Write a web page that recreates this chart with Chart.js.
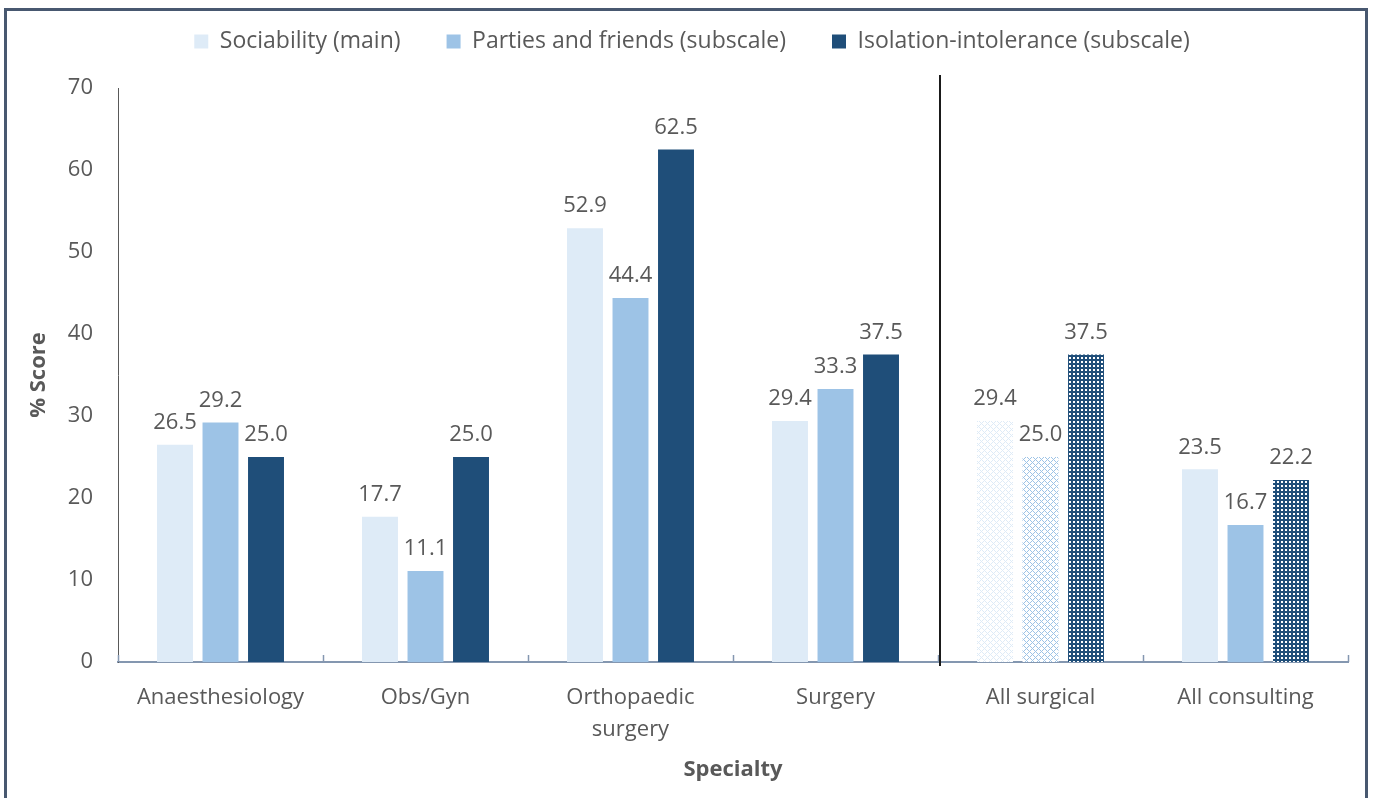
<!DOCTYPE html>
<html lang="en">
	<head>
		<meta charset="utf-8"/>
		<title>Sociability by specialty</title>
		<script src="https://cdn.jsdelivr.net/npm/chart.js@4.4.1/dist/chart.umd.min.js"></script>
		<style>
			body {
				margin: 0;
				background-color: white;
			}
			.container {
				position: relative;
				width: 1374px;
				height: 798px;
			}
		</style>
	</head>

	<body>
		<div class="container">
			<canvas id="myChart"></canvas>
		</div>

		<script>
			const categories = ['Anaesthesiology', 'Obs/Gyn', ['Orthopaedic', 'surgery'], 'Surgery', 'All surgical', 'All consulting'];
			const sociability = [26.5, 17.7, 52.9, 29.4, 29.4, 23.5];
			const parties = [29.2, 11.1, 44.4, 33.3, 25.0, 16.7];
			const isolation = [25.0, 25.0, 62.5, 37.5, 37.5, 22.2];
			const seriesNames = ['Sociability (main)', 'Parties and friends (subscale)', 'Isolation-intolerance (subscale)'];

			const LIGHT = '#DEEBF7';
			const MID = '#9DC3E6';
			const DARK = '#1F4E79';
			const TEXT = '#595959';
			const FONT = "'Open Sans', sans-serif";

			// little repeating tiles for the hatched bars
			function diamondPattern(color) {
				let c = document.createElement('canvas');
				c.width = 6; c.height = 6;
				let g = c.getContext('2d');
				g.fillStyle = '#ffffff';
				g.fillRect(0, 0, 6, 6);
				g.fillStyle = color;
				for (let i = 0; i < 6; i++) {
					g.fillRect(i, i, 1, 1);
					g.fillRect(i, (6 - i) % 6, 1, 1);
				}
				return g.createPattern(c, 'repeat');
			}

			function dotPattern(color) {
				let c = document.createElement('canvas');
				c.width = 4; c.height = 4;
				let g = c.getContext('2d');
				g.fillStyle = color;
				g.fillRect(0, 0, 4, 4);
				g.fillStyle = '#ffffff';
				g.fillRect(1, 1, 2, 2);
				return g.createPattern(c, 'repeat');
			}

			const lightHatch = diamondPattern(LIGHT);
			const midHatch = diamondPattern(MID);
			const darkDots = dotPattern(DARK);

			const frame = {
				id: 'frame',
				beforeLayout(chart) {
					// leave some room between legend and plot
					let lg = chart.legend;
					if (lg && !lg._padded) {
						let fit = lg.fit;
						lg.fit = function () {
							fit.call(this);
							this.height += 25;
						};
						lg._padded = true;
					}
				},
				afterLayout(chart) {
					// legend sits a bit right of the canvas centre
					chart.legend.left += 13;
					chart.legend.right += 13;
				},
				beforeDraw(chart) {
					let ctx = chart.ctx;
					ctx.save();
					ctx.strokeStyle = '#485870';
					ctx.lineWidth = 3;
					ctx.strokeRect(5.5, 9.5, 1361, 900);
					ctx.restore();
				}
			};

			const extras = {
				id: 'extras',
				afterDatasetsDraw(chart) {
					let ctx = chart.ctx;
					let x = chart.scales.x;
					let area = chart.chartArea;
					ctx.save();

					// small ticks between categories, pointing up
					ctx.strokeStyle = '#8497B0';
					ctx.lineWidth = 1.5;
					for (let i = 0; i <= categories.length; i++) {
						let px = Math.round(x.getPixelForValue(i - 0.5)) + 0.5;
						ctx.beginPath();
						ctx.moveTo(px, area.bottom - 7);
						ctx.lineTo(px, area.bottom);
						ctx.stroke();
					}

					// divider between single specialties and the totals
					let dx = x.getPixelForValue(3.5) + 2;
					ctx.strokeStyle = '#1a1a1a';
					ctx.lineWidth = 2;
					ctx.beginPath();
					ctx.moveTo(dx, area.top - 13);
					ctx.lineTo(dx, area.bottom + 4);
					ctx.stroke();

					// value labels
					ctx.fillStyle = TEXT;
					ctx.font = '22px ' + FONT;
					ctx.textAlign = 'center';
					ctx.textBaseline = 'middle';
					chart.data.datasets.forEach((ds, i) => {
						chart.getDatasetMeta(i).data.forEach((bar, j) => {
							ctx.fillText(ds.data[j].toFixed(1), bar.x, bar.y - 22);
						});
					});
					ctx.restore();
				}
			};

			let ch1 = document.getElementById('myChart').getContext('2d');
			let chart1 = new Chart(ch1, {
				type: 'bar',
				data: {
					labels: categories,
					datasets: [
						{
							label: seriesNames[0],
							data: sociability,
							backgroundColor: [LIGHT, LIGHT, LIGHT, LIGHT, lightHatch, LIGHT]
						},
						{
							label: seriesNames[1],
							data: parties,
							backgroundColor: [MID, MID, MID, MID, midHatch, MID]
						},
						{
							label: seriesNames[2],
							data: isolation,
							backgroundColor: [DARK, DARK, DARK, DARK, darkDots, darkDots]
						}
					]
				},
				plugins: [frame, extras],
				options: {
					responsive: true,
					maintainAspectRatio: false,
					animation: false,
					layout: {
						padding: { left: 10, right: 26, top: -16, bottom: 0 }
					},
					datasets: {
						bar: {
							categoryPercentage: 0.666,
							barPercentage: 0.79
						}
					},
					plugins: {
						tooltip: { enabled: false },
						legend: {
							position: 'top',
							labels: {
								boxWidth: 14,
								boxHeight: 14,
								padding: 46,
								color: TEXT,
								font: { family: FONT, size: 23 }
							}
						}
					},
					scales: {
						x: {
							grid: { display: false },
							border: { display: true, color: '#8497B0', width: 2 },
							ticks: {
								color: TEXT,
								padding: 12,
								font: { family: FONT, size: 22, lineHeight: 1.45 }
							},
							title: {
								display: true,
								text: 'Specialty',
								color: TEXT,
								padding: { top: 0, bottom: 15 },
								font: { family: FONT, size: 22, weight: 'bold' }
							},
							afterFit(scale) { scale.height = 136; }
						},
						y: {
							min: 0,
							max: 70,
							grid: { display: false },
							border: { display: true, color: '#595959', width: 1 },
							ticks: {
								stepSize: 10,
								color: TEXT,
								padding: 17,
								font: { family: FONT, size: 22 }
							},
							title: {
								display: true,
								text: '% Score',
								color: TEXT,
								padding: { top: 16, bottom: 0 },
								font: { family: FONT, size: 22, weight: 'bold' }
							},
							afterFit(scale) { scale.width = 108; }
						}
					}
				}
			});
		</script>
	</body>
</html>
